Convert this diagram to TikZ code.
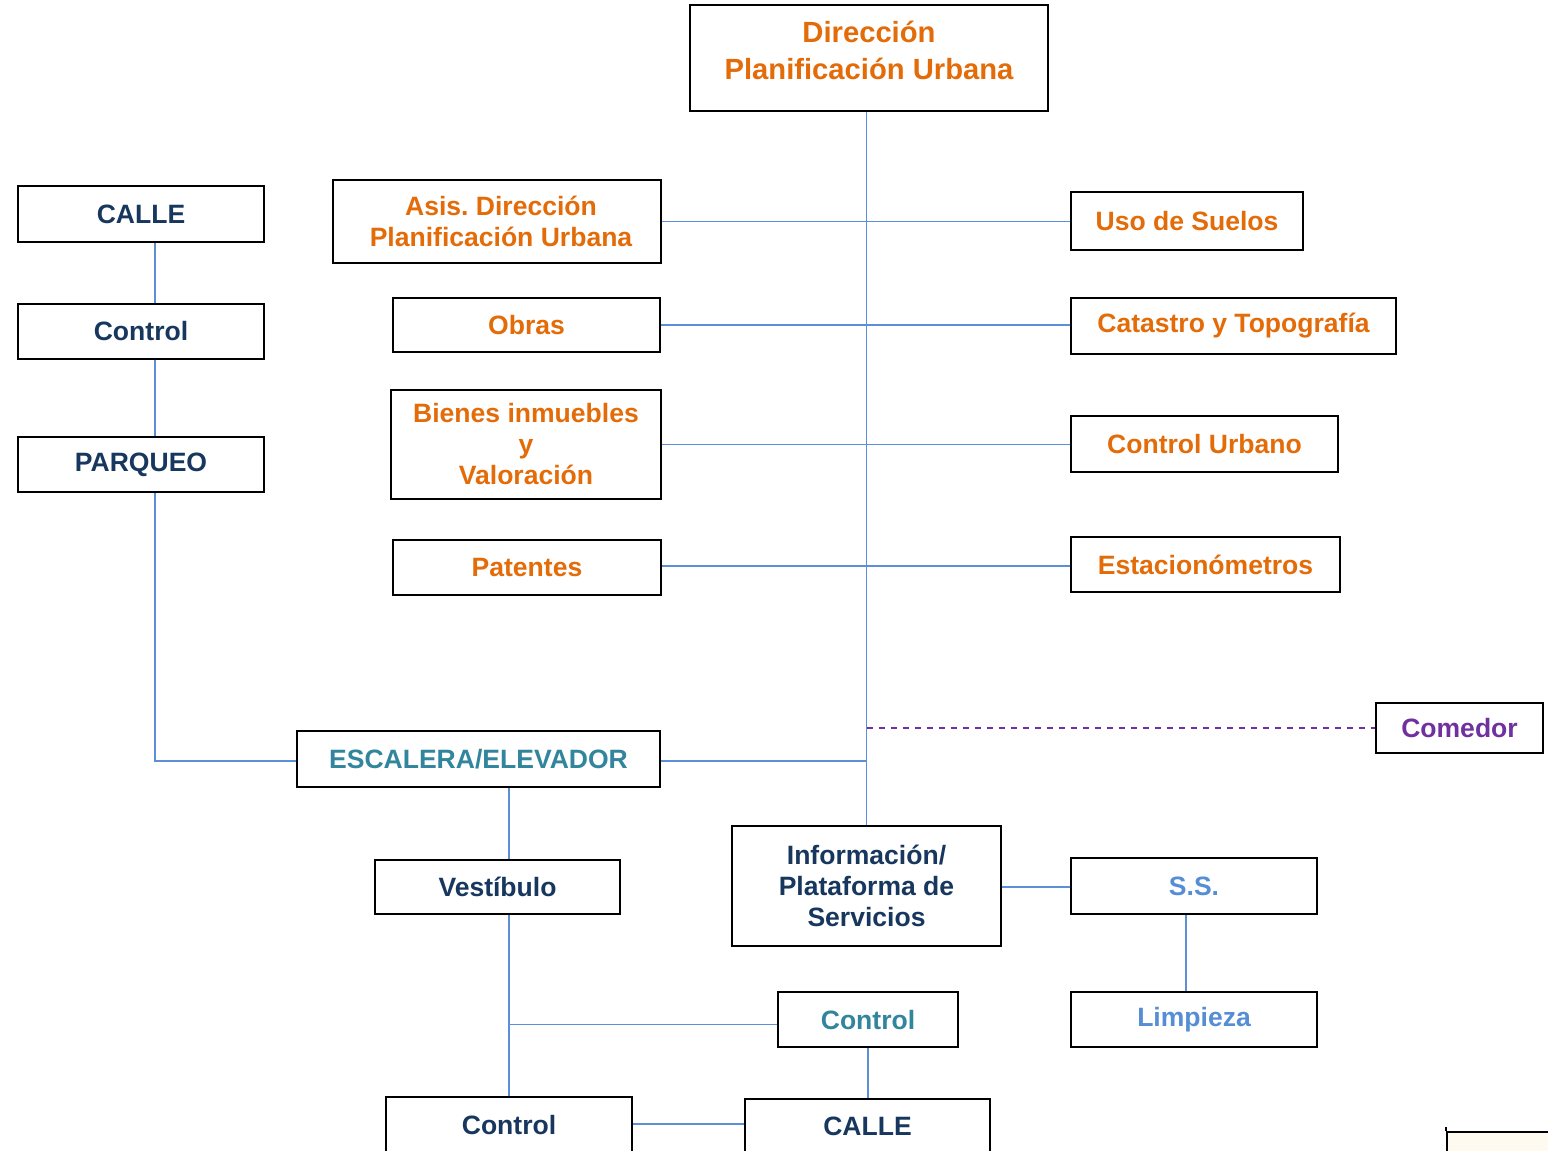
\documentclass[tikz,border=0pt]{standalone}
\usepackage{fontspec}
\setmainfont{Liberation Sans}
\frenchspacing
\usetikzlibrary{calc}
\definecolor{orng}{HTML}{E36C09}
\definecolor{navy}{HTML}{17375E}
\definecolor{teal2}{HTML}{31859C}
\definecolor{lblue}{HTML}{558ED5}
\definecolor{purp}{HTML}{7030A0}
\definecolor{conn}{HTML}{5B8FD8}
\definecolor{cream}{HTML}{FFFAEF}
\tikzset{
  box/.style={draw=black, line width=1.5pt, fill=white, inner sep=0pt, align=center,
    font=\fontsize{19.9}{23.25}\selectfont\bfseries},
  wh/.style 2 args={minimum width=#1*0.75pt, minimum height=#2*0.75pt},
  txt/.style={inner sep=0pt, align=center},
  link/.style={draw=conn, line width=1.2pt},
  dlink/.style={draw=purp, line width=1.1pt, dash pattern=on 5pt off 4pt}
}
\begin{document}
\begin{tikzpicture}[x=0.75pt, y=-0.75pt]
\useasboundingbox (0,0) rectangle (1548,1150);
\fill[white] (0,0) rectangle (1548,1150);
\clip (0,0) rectangle (1548,1150);

% boxes
\node[box, wh={358}{106}] (dir) at (869,58) {};
\node[txt, text=orng, font=\fontsize{21.9}{27.75}\selectfont\bfseries] (dirT) at (869,50.5) {Dirección\\Planificación Urbana};

\node[box, wh={246}{56}, text=navy] (calle1) at (141,214) {CALLE};
\node[box, wh={246}{55}, text=navy] (ctrl1) at (141,331.5) {Control};
\node[box, wh={246}{55}, text=navy] (parq) at (141,464.5) {PARQUEO};

\node[box, wh={328}{83}] (asis) at (497,221.5) {};
\node[txt, text=orng, font=\fontsize{19.9}{23.25}\selectfont\bfseries] (asisT) at (501,221) {Asis. Dirección\\Planificación Urbana};
\node[box, wh={267}{54}, text=orng] (obras) at (526.5,325) {Obras};
\node[box, wh={270}{109}, text=orng] (bienes) at (526,444.5) {Bienes inmuebles\\y\\Valoración};
\node[box, wh={268}{55}, text=orng] (pat) at (527,567.5) {Patentes};

\node[box, wh={232}{58}, text=orng] (uso) at (1187,221) {Uso de Suelos};
\node[box, wh={325}{56}, text=orng] (cat) at (1233.5,326) {Catastro y Topografía};
\node[box, wh={267}{56}, text=orng] (cu) at (1204.5,444) {Control Urbano};
\node[box, wh={269}{55}, text=orng] (est) at (1205.5,564.5) {Estacionómetros};

\node[box, wh={167}{50}, text=purp] (com) at (1459.5,728) {Comedor};
\node[box, wh={363}{56}, text=teal2] (esc) at (478.5,759) {ESCALERA/ELEVADOR};
\node[box, wh={269}{120}, text=navy] (info) at (866.5,886) {Información/\\Plataforma de\\Servicios};
\node[box, wh={246}{56}, text=lblue] (ss) at (1194,886) {S.S.};
\node[box, wh={245}{54}, text=navy] (vest) at (497.5,887) {Vestíbulo};
\node[box, wh={180}{55}, text=teal2] (ctrlT) at (868,1019.5) {Control};
\node[box, wh={246}{55}, text=lblue] (limp) at (1194,1019.5) {Limpieza};
\node[box, wh={246}{56}, text=navy] (ctrl2) at (509,1125) {Control};
\node[box, wh={245}{54}, text=navy] (calle2) at (867.5,1126) {CALLE};
\node[draw=black, line width=1.5pt, fill=cream, inner sep=0pt, minimum width=120*0.75pt, minimum height=40*0.75pt, anchor=north west] (frag) at (1446,1131) {};
\draw[line width=1.2pt] (frag.north west) -- ++(0,-4);

% connectors
\draw[link] (info.north |- dir.south) -- (info.north);
\draw[link] (asis.east) -- (asis.east -| uso.west);
\draw[link] (obras.east) -- (obras.east -| cat.west);
\draw[link] (bienes.east) -- (bienes.east -| cu.west);
\draw[link] ($(pat.east)+(0,-1.5)$) -- ($(pat.east -| est.west)+(0,-1.5)$);
\draw[dlink] (com.west -| info.north) -- (com.west);
\draw[link] ($(esc.east)+(0,2)$) -- ($(esc.east -| info.north)+(0,2)$);
\draw[link] ($(calle1.south)+(14,0)$) -- ($(ctrl1.north)+(14,0)$);
\draw[link] ($(ctrl1.south)+(14,0)$) -- ($(parq.north)+(14,0)$);
\draw[link] ($(parq.south)+(14,0)$) |- ($(esc.west)+(0,2)$);
\draw[link] (esc.south -| ctrl2.north) -- (vest.north -| ctrl2.north);
\draw[link] (vest.south -| ctrl2.north) -- (ctrl2.north);
\draw[link] ($(ctrlT.west -| ctrl2.north)+(0,5)$) -- ($(ctrlT.west)+(0,5)$);
\draw[link] (ctrlT.south) -- (ctrlT.south |- calle2.north);
\draw[link] ($(ctrl2.east)+(0,-1)$) -- ($(ctrl2.east -| calle2.west)+(0,-1)$);
\draw[link] ($(info.east)+(0,1)$) -- ($(info.east -| ss.west)+(0,1)$);
\draw[link] ($(ss.south)+(-8,0)$) -- ($(limp.north)+(-8,0)$);
\end{tikzpicture}
\end{document}
